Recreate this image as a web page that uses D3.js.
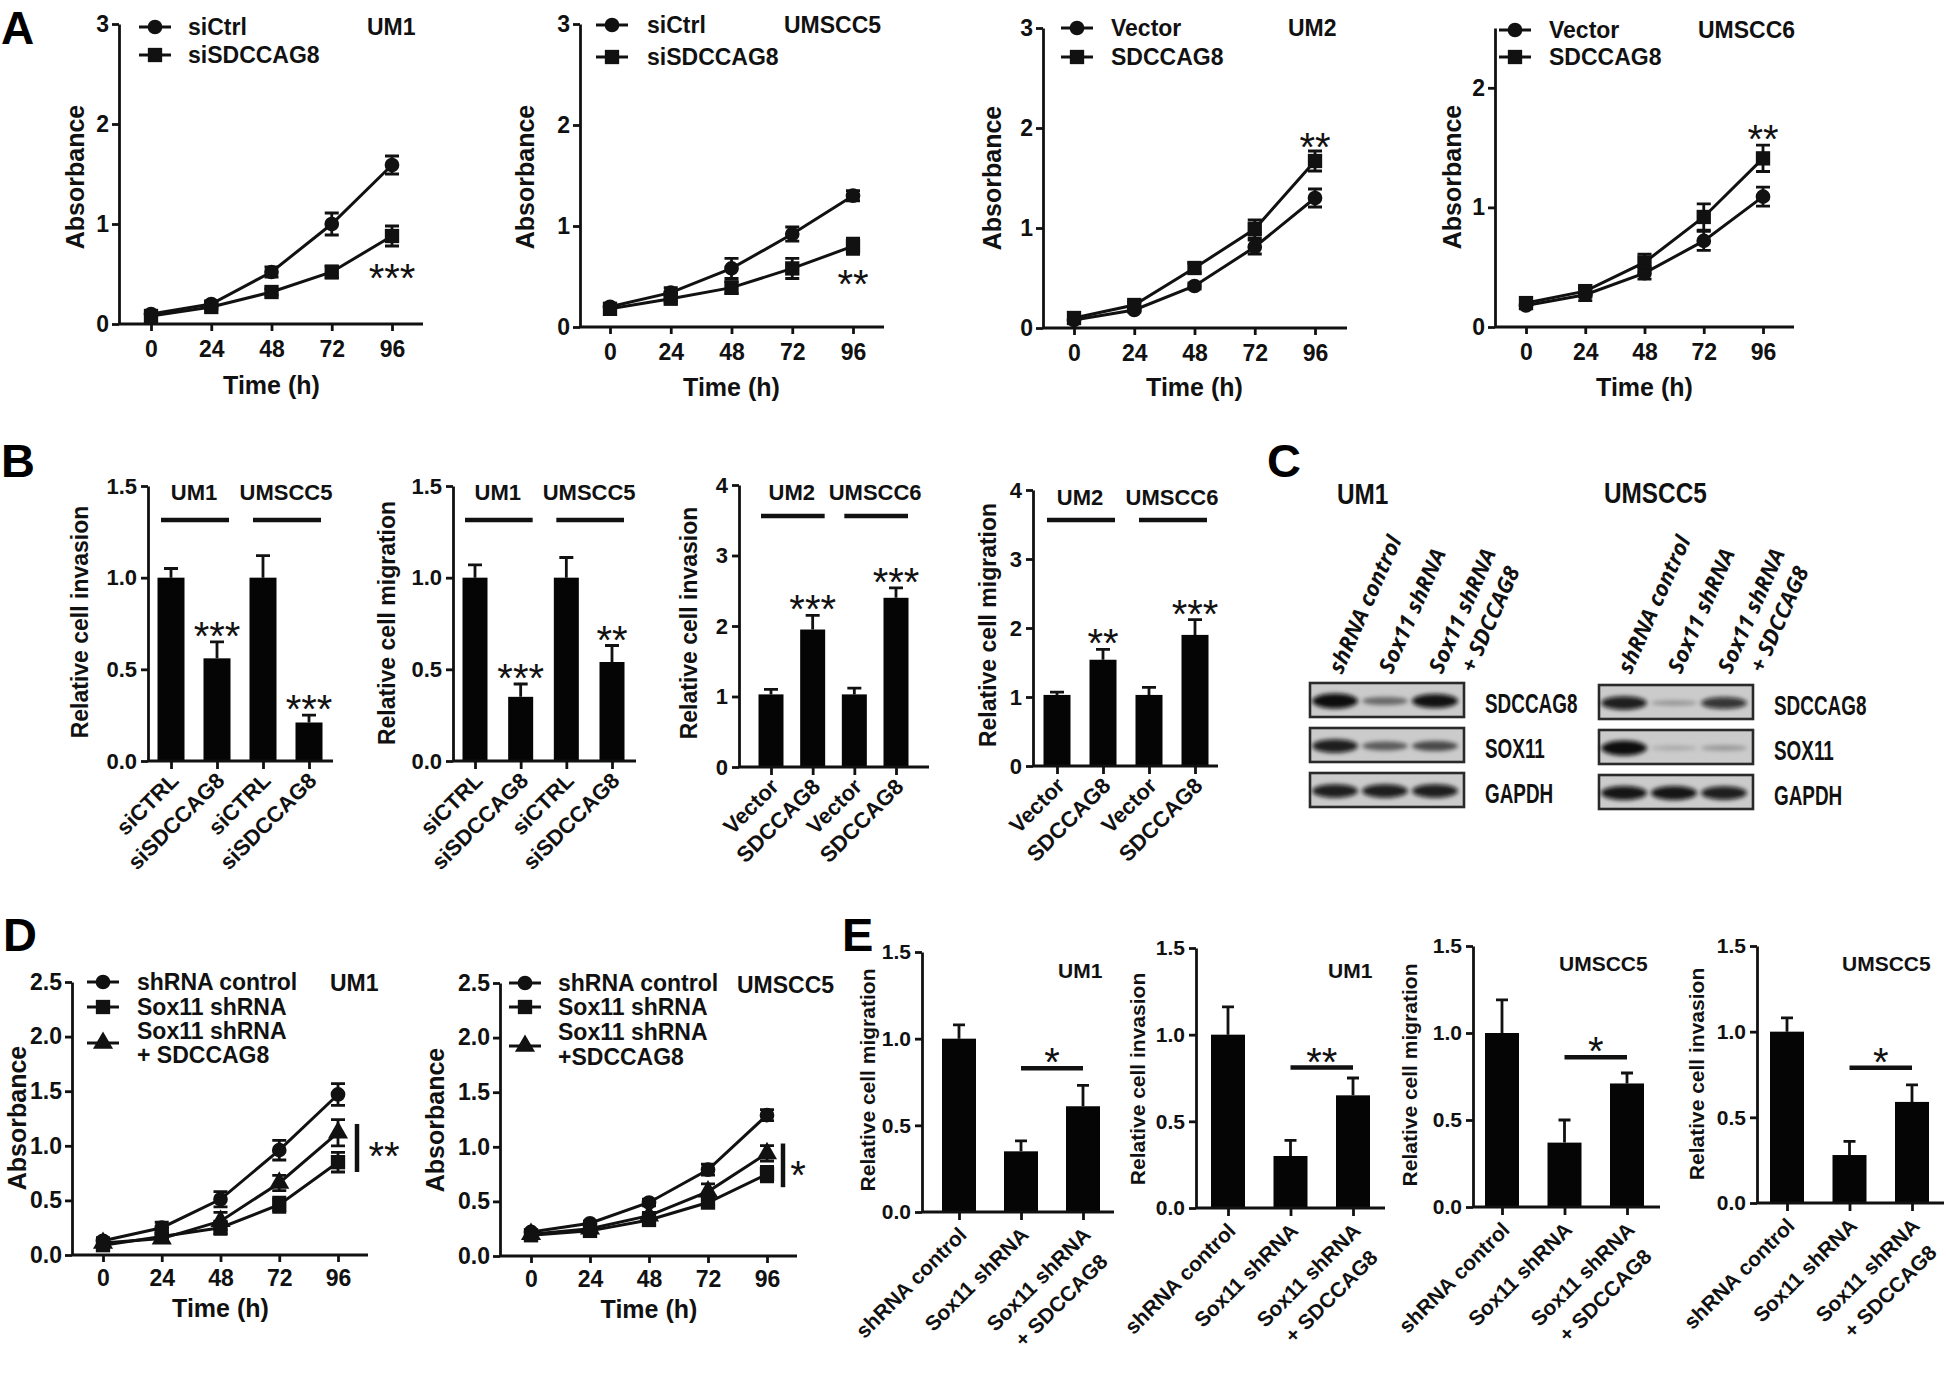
<!DOCTYPE html>
<html><head><meta charset="utf-8">
<script src="https://cdn.jsdelivr.net/npm/d3@7"></script>
<style>
html,body{margin:0;padding:0;background:#fff;}
svg{display:block;}
</style></head><body>
<svg id="fig" width="1946" height="1382"></svg>
<script>
// ================= DATA =================
const timePoints = [0, 24, 48, 72, 96];
const timeTicks = [0, 24, 48, 72, 96];

// Panel A
const aUM1_siCtrl = [0.10, 0.20, 0.52, 1.00, 1.59];
const aUM1_siCtrl_err = [0.02, 0.03, 0.05, 0.11, 0.09];
const aUM1_siSD = [0.08, 0.17, 0.32, 0.52, 0.88];
const aUM1_siSD_err = [0.02, 0.02, 0.03, 0.06, 0.10];
const aUMSCC5_siCtrl = [0.20, 0.34, 0.58, 0.92, 1.30];
const aUMSCC5_siCtrl_err = [0.02, 0.05, 0.10, 0.07, 0.05];
const aUMSCC5_siSD = [0.18, 0.28, 0.39, 0.58, 0.80];
const aUMSCC5_siSD_err = [0.02, 0.03, 0.06, 0.10, 0.08];
const aUM2_vec = [0.08, 0.18, 0.42, 0.81, 1.30];
const aUM2_vec_err = [0.02, 0.02, 0.03, 0.07, 0.09];
const aUM2_sd = [0.10, 0.23, 0.60, 0.99, 1.67];
const aUM2_sd_err = [0.02, 0.03, 0.05, 0.09, 0.10];
const aUMSCC6_vec = [0.18, 0.27, 0.45, 0.72, 1.09];
const aUMSCC6_vec_err = [0.02, 0.05, 0.05, 0.08, 0.08];
const aUMSCC6_sd = [0.20, 0.30, 0.54, 0.92, 1.41];
const aUMSCC6_sd_err = [0.02, 0.03, 0.07, 0.11, 0.11];

// Panel B
const bCatsSi = ["siCTRL", "siSDCCAG8", "siCTRL", "siSDCCAG8"];
const bCatsVec = ["Vector", "SDCCAG8", "Vector", "SDCCAG8"];
const bInvasionSi = [1.00, 0.56, 1.00, 0.21];
const bInvasionSi_err = [0.05, 0.09, 0.12, 0.04];
const bMigrationSi = [1.00, 0.35, 1.00, 0.54];
const bMigrationSi_err = [0.07, 0.07, 0.11, 0.09];
const bInvasionVec = [1.03, 1.95, 1.03, 2.40];
const bInvasionVec_err = [0.07, 0.20, 0.09, 0.14];
const bMigrationVec = [1.03, 1.54, 1.03, 1.90];
const bMigrationVec_err = [0.04, 0.15, 0.11, 0.22];
const bStars1 = ["", "***", "", "***"];
const bStars2 = ["", "***", "", "**"];
const bStars3 = ["", "***", "", "***"];
const bStars4 = ["", "**", "", "***"];
const bGroupsSi = ["UM1", "UMSCC5"];
const bGroupsVec = ["UM2", "UMSCC6"];

// Panel C (western blot band intensities, 0..1)
const blotRows = ["SDCCAG8", "SOX11", "GAPDH"];
const blotLanes = ["shRNA control", "Sox11 shRNA", "Sox11 shRNA\n+ SDCCAG8"];
const blotUM1 = [[1.00, 0.38, 0.92], [0.85, 0.45, 0.55], [0.85, 0.85, 0.85]];
const blotUMSCC5 = [[0.85, 0.12, 0.72], [1.00, 0.04, 0.12], [0.90, 0.90, 0.85]];

// Panel D
const dUM1_ctrl = [0.13, 0.25, 0.51, 0.96, 1.47];
const dUM1_ctrl_err = [0.03, 0.05, 0.07, 0.09, 0.10];
const dUM1_sox = [0.09, 0.17, 0.25, 0.46, 0.85];
const dUM1_sox_err = [0.03, 0.03, 0.06, 0.07, 0.09];
const dUM1_tri = [0.11, 0.15, 0.31, 0.66, 1.12];
const dUM1_tri_err = [0.02, 0.03, 0.08, 0.07, 0.12];
const dUMSCC5_ctrl = [0.22, 0.30, 0.49, 0.79, 1.29];
const dUMSCC5_ctrl_err = [0.02, 0.02, 0.03, 0.05, 0.05];
const dUMSCC5_sox = [0.19, 0.23, 0.33, 0.49, 0.75];
const dUMSCC5_sox_err = [0.02, 0.02, 0.03, 0.05, 0.07];
const dUMSCC5_tri = [0.20, 0.25, 0.37, 0.59, 0.94];
const dUMSCC5_tri_err = [0.02, 0.02, 0.03, 0.07, 0.07];

// Panel E
const eCats = ["shRNA control", "Sox11 shRNA", "Sox11 shRNA\n+ SDCCAG8"];
const eMigUM1 = [1.00, 0.35, 0.61];
const eMigUM1_err = [0.08, 0.06, 0.12];
const eInvUM1 = [1.00, 0.30, 0.65];
const eInvUM1_err = [0.16, 0.09, 0.10];
const eMigUMSCC5 = [1.00, 0.37, 0.71];
const eMigUMSCC5_err = [0.19, 0.13, 0.06];
const eInvUMSCC5 = [1.00, 0.28, 0.59];
const eInvUMSCC5_err = [0.08, 0.08, 0.10];

// ================= LAYOUT =================
const FONT = '"Liberation Sans", Arial, Helvetica, sans-serif';
const INK = "#111";
const svg = d3.select("#fig");
svg.append("rect").attr("width", 1946).attr("height", 1382).attr("fill", "#fff");
const defs = svg.append("defs");
defs.append("filter").attr("id", "blur").attr("x", "-30%").attr("y", "-80%").attr("width", "160%").attr("height", "260%")
  .append("feGaussianBlur").attr("stdDeviation", 2.2);

const symMap = {circle: d3.symbolCircle, square: d3.symbolSquare, triangle: d3.symbolTriangle};
const symSize = {circle: 170, square: 205, triangle: 175};

function styleAxis(sel, fs) {
  sel.select(".domain").attr("stroke", INK).attr("stroke-width", 2.8);
  sel.selectAll(".tick line").attr("stroke", INK).attr("stroke-width", 2.8);
  sel.selectAll(".tick text").attr("font-family", FONT).attr("font-size", fs)
    .attr("font-weight", "bold").attr("fill", INK);
}
function label(g, x, y, s, fs, opts = {}) {
  return g.append("text").attr("x", x).attr("y", y).attr("font-family", FONT)
    .attr("font-size", fs).attr("font-weight", "bold").attr("fill", INK)
    .attr("text-anchor", opts.anchor || "start").attr("dy", "0.36em").text(s);
}
function narrowLabel(g, x, y, s, fs, sx) {
  return g.append("text").attr("transform", `translate(${x},${y}) scale(${sx},1)`).attr("font-family", FONT)
    .attr("font-size", fs).attr("font-weight", "bold").attr("fill", INK).attr("dy", "0.36em").text(s);
}
function stars(g, cx, cy, s) {
  if (!s) return;
  g.append("text").attr("x", cx).attr("y", cy + 23).attr("text-anchor", "middle")
    .attr("font-family", FONT).attr("font-size", 40).attr("fill", INK).text(s);
}
function yTitle(g, x, y, s, fs) {
  g.append("text").attr("transform", `translate(${x},${y}) rotate(-90)`).attr("text-anchor", "middle")
    .attr("dy", "0.36em").attr("font-family", FONT).attr("font-size", fs).attr("font-weight", "bold")
    .attr("fill", INK).text(s);
}

function lineChart(L, P) {
  const g = svg.append("g");
  const x = d3.scaleLinear().domain([0, 96]).range([L.x0, L.x1]);
  const y = d3.scaleLinear().domain([0, L.yMax]).range([L.yB, L.yT]);
  const ya = g.append("g").attr("transform", `translate(${L.ax},0)`)
    .call(d3.axisLeft(y).tickValues(L.yTicks).tickFormat(d3.format(L.fmt)).tickSize(7).tickPadding(3).tickSizeOuter(0));
  styleAxis(ya, L.fs);
  const xa = g.append("g").attr("transform", `translate(0,${L.yB})`)
    .call(d3.axisBottom(x).tickValues(timeTicks).tickFormat(d3.format("d")).tickSize(7).tickPadding(L.xPad).tickSizeOuter(0));
  xa.select(".domain").attr("d", `M${L.ax},0H${L.xEnd}`);
  styleAxis(xa, L.fs);
  g.append("text").attr("x", (L.x0 + L.x1) / 2).attr("y", L.timeY).attr("text-anchor", "middle")
    .attr("font-family", FONT).attr("font-size", L.tfs).attr("font-weight", "bold").attr("fill", INK).text("Time (h)");
  yTitle(g, L.ylabX, L.ylabY, "Absorbance", L.tfs);

  const line = d3.line().x((d, i) => x(timePoints[i])).y(d => y(d));
  P.series.forEach(s => {
    g.append("path").attr("d", line(s.vals)).attr("fill", "none").attr("stroke", INK).attr("stroke-width", 3);
  });
  P.series.forEach(s => {
    g.selectAll(null).data(s.vals).join("path")
      .attr("d", (v, i) => {
        const cx = x(timePoints[i]), hi = y(v + s.err[i]), lo = y(v - s.err[i]);
        return `M${cx - 7},${hi}H${cx + 7}M${cx},${hi}V${lo}M${cx - 7},${lo}H${cx + 7}`;
      })
      .attr("stroke", INK).attr("stroke-width", 2.8).attr("fill", "none");
    g.selectAll(null).data(s.vals).join("path")
      .attr("transform", (v, i) => `translate(${x(timePoints[i])},${y(v)})`)
      .attr("d", d3.symbol(symMap[s.sym], symSize[s.sym])).attr("fill", INK);
  });
  P.series.forEach((s, k) => {
    const ly = L.legY[k];
    g.append("line").attr("x1", L.legX - 16).attr("x2", L.legX + 16).attr("y1", ly).attr("y2", ly)
      .attr("stroke", INK).attr("stroke-width", 3);
    g.append("path").attr("transform", `translate(${L.legX},${ly})`)
      .attr("d", d3.symbol(symMap[s.sym], symSize[s.sym])).attr("fill", INK);
    P.legend[k].split("\n").forEach((ln, j) => {
      label(g, L.legTx, L.legTextY ? L.legTextY[k][j] : ly, ln, L.lfs);
    });
  });
  label(g, L.titleX, L.titleY, P.title, L.lfs);
  if (P.sig.bar) {
    g.append("line").attr("x1", L.sigX).attr("x2", L.sigX).attr("y1", y(P.sig.v0)).attr("y2", y(P.sig.v1))
      .attr("stroke", INK).attr("stroke-width", 4.5);
    stars(g, L.sigTx, y(P.sig.tv), P.sig.text);
  } else {
    stars(g, x(P.sig.t), y(P.sig.v), P.sig.text);
  }
}

function barChart(L, P) {
  const g = svg.append("g");
  const idx = d3.range(P.cats.length);
  const x = d3.scalePoint().domain(idx).range([L.c0, L.c1]);
  const y = d3.scaleLinear().domain([0, L.yMax]).range([L.yB, L.yT]);
  g.selectAll(null).data(idx).join("path")
    .attr("d", i => `M${x(i)},${y(P.vals[i])}V${y(P.vals[i] + P.err[i])}M${x(i) - L.cap},${y(P.vals[i] + P.err[i])}H${x(i) + L.cap}`)
    .attr("stroke", INK).attr("stroke-width", 2.8).attr("fill", "none");
  g.selectAll(null).data(idx).join("rect")
    .attr("x", i => x(i) - L.bw / 2).attr("y", i => y(P.vals[i])).attr("width", L.bw)
    .attr("height", i => L.yB - y(P.vals[i])).attr("fill", "#050505");
  const ya = g.append("g").attr("transform", `translate(${L.ax},0)`)
    .call(d3.axisLeft(y).tickValues(L.yTicks).tickFormat(d3.format(L.fmt)).tickSize(7).tickPadding(4).tickSizeOuter(0));
  styleAxis(ya, L.fs);
  const xa = g.append("g").attr("transform", `translate(0,${L.yB})`)
    .call(d3.axisBottom(x).tickSize(8).tickFormat("").tickSizeOuter(0));
  xa.select(".domain").attr("d", `M${L.ax},0H${L.xEnd}`);
  styleAxis(xa, L.fs);
  idx.forEach(i => {
    const t = g.append("text").attr("transform", `translate(${x(i) + L.lx},${L.yB + L.ly}) rotate(-45)`)
      .attr("text-anchor", "end").attr("font-family", FONT).attr("font-size", L.fs).attr("font-weight", "bold").attr("fill", INK);
    P.cats[i].split("\n").forEach((ln, k) => {
      t.append("tspan").attr("x", k === 0 ? 0 : -7).attr("dy", k === 0 ? 0 : 31).text(ln);
    });
  });
  yTitle(g, L.ylabX, L.ylabY, P.yTitle, L.tfs);
  if (P.stars) idx.forEach(i => stars(g, x(i), y(P.vals[i] + P.err[i]) - 15, P.stars[i]));
  if (P.groups) {
    P.groups.forEach((gn, k) => {
      const a = x(2 * k), b = x(2 * k + 1);
      label(g, (a + b) / 2, L.groupY, gn, L.fs, {anchor: "middle"});
      g.append("line").attr("x1", a - 10).attr("x2", b + 12).attr("y1", L.lineY).attr("y2", L.lineY)
        .attr("stroke", INK).attr("stroke-width", 4.5);
    });
  }
  if (P.title) label(g, L.titleX, L.titleY, P.title, L.fs);
  if (P.sig) {
    const sy = y(P.sig.v);
    g.append("line").attr("x1", x(1)).attr("x2", x(2)).attr("y1", sy).attr("y2", sy)
      .attr("stroke", INK).attr("stroke-width", 4.5);
    stars(g, (x(1) + x(2)) / 2, sy - 15, P.sig.text);
  }
}

// ---- Panel A
const LA = [
  {ax: 119, x0: 151, x1: 392, xEnd: 423, yB: 324, yT: 24, yMax: 3, yTicks: [0, 1, 2, 3], fmt: "d", fs: 23, lfs: 23, tfs: 25, xPad: 10, timeY: 394, ylabX: 75, ylabY: 177, legX: 155, legY: [27, 55], legTx: 188, titleX: 367, titleY: 27},
  {ax: 580, x0: 610, x1: 853, xEnd: 884, yB: 327, yT: 24, yMax: 3, yTicks: [0, 1, 2, 3], fmt: "d", fs: 23, lfs: 23, tfs: 25, xPad: 10, timeY: 396, ylabX: 525, ylabY: 177, legX: 612, legY: [25, 57], legTx: 647, titleX: 784, titleY: 25},
  {ax: 1043, x0: 1074, x1: 1315, xEnd: 1347, yB: 328, yT: 28, yMax: 3, yTicks: [0, 1, 2, 3], fmt: "d", fs: 23, lfs: 23, tfs: 25, xPad: 10, timeY: 396, ylabX: 992, ylabY: 178, legX: 1077, legY: [28, 57], legTx: 1111, titleX: 1288, titleY: 28},
  {ax: 1495, x0: 1526, x1: 1763, xEnd: 1794, yB: 327, yT: 28, yMax: 2.5, yTicks: [0, 1, 2], fmt: "d", fs: 23, lfs: 23, tfs: 25, xPad: 10, timeY: 396, ylabX: 1452, ylabY: 177, legX: 1515, legY: [30, 57], legTx: 1549, titleX: 1698, titleY: 30}
];
lineChart(LA[0], {title: "UM1", legend: ["siCtrl", "siSDCCAG8"],
  series: [{vals: aUM1_siCtrl, err: aUM1_siCtrl_err, sym: "circle"}, {vals: aUM1_siSD, err: aUM1_siSD_err, sym: "square"}],
  sig: {text: "***", t: 96, v: 0.55}});
lineChart(LA[1], {title: "UMSCC5", legend: ["siCtrl", "siSDCCAG8"],
  series: [{vals: aUMSCC5_siCtrl, err: aUMSCC5_siCtrl_err, sym: "circle"}, {vals: aUMSCC5_siSD, err: aUMSCC5_siSD_err, sym: "square"}],
  sig: {text: "**", t: 96, v: 0.51}});
lineChart(LA[2], {title: "UM2", legend: ["Vector", "SDCCAG8"],
  series: [{vals: aUM2_vec, err: aUM2_vec_err, sym: "circle"}, {vals: aUM2_sd, err: aUM2_sd_err, sym: "square"}],
  sig: {text: "**", t: 96, v: 1.90}});
lineChart(LA[3], {title: "UMSCC6", legend: ["Vector", "SDCCAG8"],
  series: [{vals: aUMSCC6_vec, err: aUMSCC6_vec_err, sym: "circle"}, {vals: aUMSCC6_sd, err: aUMSCC6_sd_err, sym: "square"}],
  sig: {text: "**", t: 96, v: 1.65}});

// ---- Panel B
const LB = [
  {ax: 148, c0: 171, c1: 309, bw: 27, cap: 7, xEnd: 333, yB: 761, yT: 486, yMax: 1.5, yTicks: [0, 0.5, 1, 1.5], fmt: ".1f", fs: 22, tfs: 23, lx: 9, ly: 21, ylabX: 80, ylabY: 622, groupY: 492, lineY: 520},
  {ax: 453, c0: 475, c1: 612, bw: 25, cap: 7, xEnd: 636, yB: 761, yT: 486, yMax: 1.5, yTicks: [0, 0.5, 1, 1.5], fmt: ".1f", fs: 22, tfs: 23, lx: 9, ly: 21, ylabX: 387, ylabY: 623, groupY: 492, lineY: 520},
  {ax: 739, c0: 771, c1: 896, bw: 25, cap: 7, xEnd: 929, yB: 767, yT: 485, yMax: 4, yTicks: [0, 1, 2, 3, 4], fmt: "d", fs: 22, tfs: 23, lx: 9, ly: 21, ylabX: 689, ylabY: 623, groupY: 492, lineY: 516},
  {ax: 1033, c0: 1057, c1: 1195, bw: 27, cap: 7, xEnd: 1218, yB: 766, yT: 490, yMax: 4, yTicks: [0, 1, 2, 3, 4], fmt: "d", fs: 22, tfs: 23, lx: 9, ly: 21, ylabX: 988, ylabY: 625, groupY: 497, lineY: 520}
];
barChart(LB[0], {cats: bCatsSi, vals: bInvasionSi, err: bInvasionSi_err, stars: bStars1, groups: bGroupsSi, yTitle: "Relative cell invasion"});
barChart(LB[1], {cats: bCatsSi, vals: bMigrationSi, err: bMigrationSi_err, stars: bStars2, groups: bGroupsSi, yTitle: "Relative cell migration"});
barChart(LB[2], {cats: bCatsVec, vals: bInvasionVec, err: bInvasionVec_err, stars: bStars3, groups: bGroupsVec, yTitle: "Relative cell invasion"});
barChart(LB[3], {cats: bCatsVec, vals: bMigrationVec, err: bMigrationVec_err, stars: bStars4, groups: bGroupsVec, yTitle: "Relative cell migration"});

// ---- Panel C (western blots)
function blot(B, title, intens) {
  const g = svg.append("g");
  const lx = d3.scalePoint().domain(d3.range(blotLanes.length)).range([B.x + 25, B.x + 125]);
  const ry = d3.scalePoint().domain(blotRows).range([B.y0, B.y0 + 90]);
  narrowLabel(g, B.titleX, B.titleY, title, 29, 0.84);
  blotRows.forEach((r, ri) => {
    g.append("rect").attr("x", B.x).attr("y", ry(r) - 17).attr("width", 154).attr("height", 34)
      .attr("fill", "#cbcbcb").attr("stroke", "#2a2a2a").attr("stroke-width", 2.6);
    const bg = g.append("g").attr("filter", "url(#blur)");
    intens[ri].forEach((v, li) => {
      bg.append("ellipse").attr("cx", lx(li)).attr("cy", ry(r) + 1).attr("rx", 23).attr("ry", 2 + 5.5 * v)
        .attr("fill", "#0a0a0a").attr("opacity", Math.min(1, 0.15 + 0.9 * v));
    });
    narrowLabel(g, B.labX, ry(r) + 3, r, 27, 0.7);
  });
  blotLanes.forEach((ln, li) => {
    const t = g.append("text").attr("transform", `translate(${lx(li) + 7},675) rotate(-66)`)
      .attr("font-family", '"Open Sans", "DejaVu Sans", sans-serif').attr("font-size", 22)
      .attr("font-weight", "bold").attr("font-style", "italic").attr("fill", INK);
    ln.split("\n").forEach((s, k) => t.append("tspan").attr("x", k === 0 ? 0 : 14).attr("dy", k === 0 ? 0 : 29).text(s));
  });
}
blot({x: 1310, y0: 700, labX: 1485, titleX: 1337, titleY: 494}, "UM1", blotUM1);
blot({x: 1599, y0: 702, labX: 1774, titleX: 1604, titleY: 493}, "UMSCC5", blotUMSCC5);

// ---- Panel D
const LD = [
  {ax: 72, x0: 103, x1: 338, xEnd: 368, yB: 1255, yT: 982, yMax: 2.5, yTicks: [0, 0.5, 1, 1.5, 2, 2.5], fmt: ".1f", fs: 23, lfs: 23, tfs: 25, xPad: 8, timeY: 1317, ylabX: 17, ylabY: 1118, legX: 103, legY: [982, 1007, 1043], legTextY: [[982], [1007], [1031, 1055]], legTx: 137, titleX: 330, titleY: 983, sigX: 357, sigTx: 384},
  {ax: 500, x0: 531, x1: 767, xEnd: 797, yB: 1256, yT: 983, yMax: 2.5, yTicks: [0, 0.5, 1, 1.5, 2, 2.5], fmt: ".1f", fs: 23, lfs: 23, tfs: 25, xPad: 8, timeY: 1318, ylabX: 435, ylabY: 1120, legX: 525, legY: [983, 1007, 1046], legTextY: [[983], [1007], [1032, 1057]], legTx: 558, titleX: 737, titleY: 985, sigX: 783, sigTx: 798}
];
lineChart(LD[0], {title: "UM1", legend: ["shRNA control", "Sox11 shRNA", "Sox11 shRNA\n+ SDCCAG8"],
  series: [{vals: dUM1_ctrl, err: dUM1_ctrl_err, sym: "circle"}, {vals: dUM1_sox, err: dUM1_sox_err, sym: "square"}, {vals: dUM1_tri, err: dUM1_tri_err, sym: "triangle"}],
  sig: {bar: true, v0: 1.20, v1: 0.76, tv: 0.99, text: "**"}});
lineChart(LD[1], {title: "UMSCC5", legend: ["shRNA control", "Sox11 shRNA", "Sox11 shRNA\n+SDCCAG8"],
  series: [{vals: dUMSCC5_ctrl, err: dUMSCC5_ctrl_err, sym: "circle"}, {vals: dUMSCC5_sox, err: dUMSCC5_sox_err, sym: "square"}, {vals: dUMSCC5_tri, err: dUMSCC5_tri_err, sym: "triangle"}],
  sig: {bar: true, v0: 1.03, v1: 0.63, tv: 0.82, text: "*"}});

// ---- Panel E
const LE = [
  {ax: 922, c0: 959, c1: 1083, bw: 34, cap: 6, xEnd: 1114, yB: 1212, yT: 952, yMax: 1.5, yTicks: [0, 0.5, 1, 1.5], fmt: ".1f", fs: 21, tfs: 21, lx: 9, ly: 24, ylabX: 867, ylabY: 1080, titleX: 1058, titleY: 970},
  {ax: 1196, c0: 1228, c1: 1353, bw: 34, cap: 6, xEnd: 1385, yB: 1208, yT: 948, yMax: 1.5, yTicks: [0, 0.5, 1, 1.5], fmt: ".1f", fs: 21, tfs: 21, lx: 9, ly: 24, ylabX: 1137, ylabY: 1079, titleX: 1328, titleY: 970},
  {ax: 1473, c0: 1502, c1: 1627, bw: 34, cap: 6, xEnd: 1660, yB: 1207, yT: 946, yMax: 1.5, yTicks: [0, 0.5, 1, 1.5], fmt: ".1f", fs: 21, tfs: 21, lx: 9, ly: 24, ylabX: 1409, ylabY: 1075, titleX: 1559, titleY: 963},
  {ax: 1757, c0: 1787, c1: 1912, bw: 34, cap: 6, xEnd: 1944, yB: 1203, yT: 946, yMax: 1.5, yTicks: [0, 0.5, 1, 1.5], fmt: ".1f", fs: 21, tfs: 21, lx: 9, ly: 24, ylabX: 1696, ylabY: 1074, titleX: 1842, titleY: 963}
];
barChart(LE[0], {cats: eCats, vals: eMigUM1, err: eMigUM1_err, title: "UM1", yTitle: "Relative cell migration", sig: {v: 0.83, text: "*"}});
barChart(LE[1], {cats: eCats, vals: eInvUM1, err: eInvUM1_err, title: "UM1", yTitle: "Relative cell invasion", sig: {v: 0.81, text: "**"}});
barChart(LE[2], {cats: eCats, vals: eMigUMSCC5, err: eMigUMSCC5_err, title: "UMSCC5", yTitle: "Relative cell migration", sig: {v: 0.86, text: "*"}});
barChart(LE[3], {cats: eCats, vals: eInvUMSCC5, err: eInvUMSCC5_err, title: "UMSCC5", yTitle: "Relative cell invasion", sig: {v: 0.79, text: "*"}});

// ---- Panel letters
const panelLetters = ["A", "B", "C", "D", "E"];
const letterPos = [[1, 44, 46], [1, 477, 47], [1267, 477, 47], [3, 951, 47], [842, 951, 47]];
panelLetters.forEach((s, i) => {
  svg.append("text").attr("x", letterPos[i][0]).attr("y", letterPos[i][1]).attr("font-family", FONT)
    .attr("font-size", letterPos[i][2]).attr("font-weight", "bold").attr("fill", "#000").text(s);
});
</script>
</body></html>
